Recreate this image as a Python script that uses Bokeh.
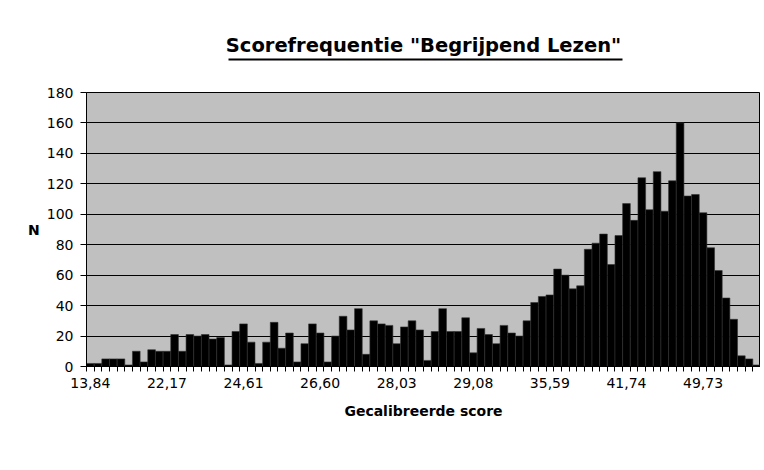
import numpy as np
from bokeh.plotting import figure
from bokeh.models import FixedTicker, Range1d, ColumnDataSource, LinearAxis
from bokeh.embed import file_html
from bokeh.resources import INLINE

# ---- data ----
counts = [2, 2, 5, 5, 5, 1, 10, 3, 11, 10,
          10, 21, 10, 21, 20, 21, 18, 19, 1, 23,
          28, 16, 2, 16, 29, 12, 22, 3, 15, 28,
          22, 3, 20, 33, 24, 38, 8, 30, 28, 27,
          15, 26, 30, 24, 4, 23, 38, 23, 23, 32,
          9, 25, 21, 15, 27, 22, 20, 30, 42, 46,
          47, 64, 60, 51, 53, 77, 81, 87, 67, 86,
          107, 96, 124, 103, 128, 102, 122, 160, 112, 113,
          101, 78, 63, 45, 31, 7, 5, 1]
tick_labels = ["13,84", "22,17", "24,61", "26,60", "28,03",
               "29,08", "35,59", "41,74", "49,73"]
label_every = 10
y_ticks = list(range(0, 181, 20))
title_text = 'Scorefrequentie "Begrijpend Lezen"'

FONT = "DejaVu Sans"
W, H = 760, 466
FL, FT, FB = 86, 92, 100   # frame borders (left, top, bottom)
FW = W - FL

n = len(counts)
idx = np.arange(n)
src = ColumnDataSource(dict(x=idx + 0.5, top=counts))

p = figure(width=W, height=H, output_backend="svg", toolbar_location=None,
           x_range=Range1d(0, n), y_range=Range1d(0, 180),
           min_border_left=FL, min_border_right=0, min_border_top=FT, min_border_bottom=FB)

p.vbar(x="x", top="top", width=1.0, bottom=0, source=src,
       fill_color="black", line_color="#333333", line_width=0.6)

p.background_fill_color = "#C0C0C0"
p.border_fill_color = "white"
p.outline_line_color = "black"
p.outline_line_width = 1

# grid
p.xgrid.visible = False
p.ygrid.ticker = FixedTicker(ticks=y_ticks)
p.ygrid.grid_line_color = "black"
p.ygrid.grid_line_width = 1

# x axis
label_pos = [i * label_every + 0.5 for i in range(len(tick_labels))]
p.xaxis.ticker = FixedTicker(ticks=label_pos, minor_ticks=list(range(0, n + 1)))
p.xaxis.major_label_overrides = {pos: lab for pos, lab in zip(label_pos, tick_labels)}
p.xaxis.major_tick_out = 0
p.xaxis.major_tick_in = 0
p.xaxis.minor_tick_out = 5
p.xaxis.minor_tick_in = 0
p.xaxis.minor_tick_line_color = "black"
p.xaxis.major_label_standoff = 6
p.xaxis.axis_label = "Gecalibreerde score"
p.xaxis.axis_label_standoff = 12

# y axis
p.yaxis.ticker = FixedTicker(ticks=y_ticks)
p.yaxis.major_tick_out = 6
p.yaxis.major_tick_in = 0
p.yaxis.minor_tick_out = 0
p.yaxis.minor_tick_in = 0
p.yaxis.major_label_standoff = 7
p.yaxis.axis_label = "N"
p.yaxis.axis_label_orientation = "horizontal"
p.yaxis.axis_label_standoff = 4

for ax in (p.xaxis, p.yaxis):
    ax.axis_line_color = "black"
    ax.major_tick_line_color = "black"
    ax.major_label_text_font = FONT
    ax.major_label_text_font_size = "14px"
    ax.major_label_text_color = "black"
    ax.axis_label_text_font = FONT
    ax.axis_label_text_font_size = "14px"
    ax.axis_label_text_font_style = "bold"
    ax.axis_label_text_color = "black"

# ---- underlined title: an "above" axis whose line is the underline ----
# invisible spacer axis between the frame and the underline
spacer = LinearAxis(ticker=FixedTicker(ticks=[label_pos[0]]), axis_line_color=None,
                    major_tick_out=33, major_tick_in=0, minor_tick_out=0, minor_tick_in=0,
                    major_tick_line_color=None, minor_tick_line_color=None,
                    major_label_overrides={label_pos[0]: ""},
                    major_label_text_font_size="0px", major_label_standoff=0)
p.add_layout(spacer, "above")

ul_px = (228, 622)  # underline extent in canvas pixels
ul_bounds = tuple((px - FL) / FW * n for px in ul_px)
title_axis = LinearAxis(ticker=FixedTicker(ticks=[]), bounds=ul_bounds,
                        axis_line_color="black", axis_line_width=2,
                        major_tick_out=0, major_tick_in=0, minor_tick_out=0, minor_tick_in=0,
                        major_label_text_font_size="0px", major_label_standoff=0,
                        axis_label=title_text, axis_label_standoff=3,
                        axis_label_text_font=FONT, axis_label_text_font_size="19.5px",
                        axis_label_text_font_style="bold", axis_label_text_color="black")
p.add_layout(title_axis, "above")

open("out.html", "w").write(file_html(p, INLINE))
